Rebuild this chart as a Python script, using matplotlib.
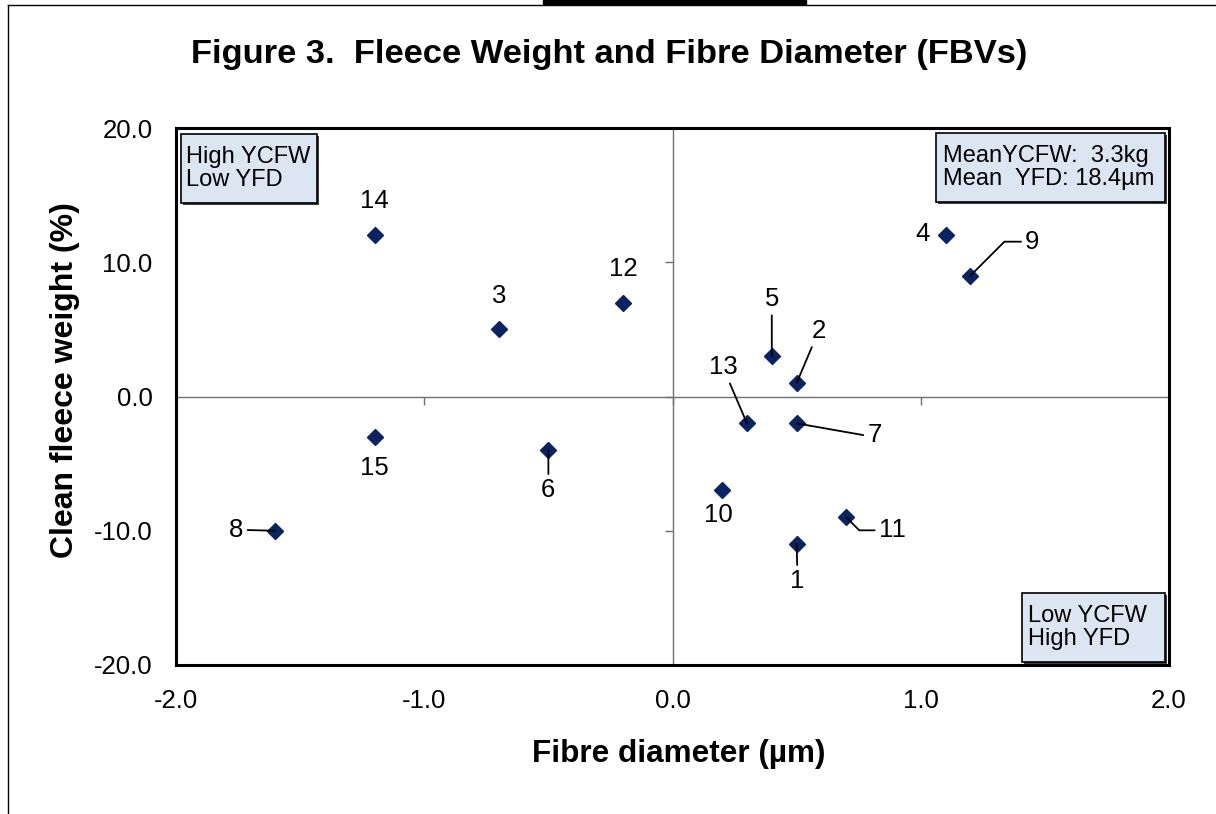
import matplotlib.pyplot as plt
from matplotlib.patches import Rectangle
from matplotlib.lines import Line2D

# ram FBVs: fibre diameter (um) vs clean fleece weight (%)
sire_ids = ['1', '2', '3', '4', '5', '6', '7', '8', '9', '10', '11', '12', '13', '14', '15']
fibre_diam = [0.5, 0.5, -0.7, 1.1, 0.4, -0.5, 0.5, -1.6, 1.2, 0.2, 0.7, -0.2, 0.3, -1.2, -1.2]
fleece_wt = [-11, 1, 5, 12, 3, -4, -2, -10, 9, -7, -9, 7, -2, 12, -3]

x_ticks = [-2.0, -1.0, 0.0, 1.0, 2.0]
y_ticks = [-20.0, -10.0, 0.0, 10.0, 20.0]

# label offsets in pixels and leader style (None = no leader)
label_offsets = [(1, -37), (22, 52), (0, 33), (-23, 1), (0, 57), (0, -40), (78, -12),
                 (-39, 1), (62, 34), (-4, -25), (46, -13), (0, 34), (-24, 56), (0, 34), (0, -31)]
leaders = ['arc3', 'arc3', None, None, 'arc3', 'arc3', 'angle,angleA=0,angleB=-10,rad=0',
           'arc3', 'angle,angleA=0,angleB=45,rad=0', None, 'angle,angleA=0,angleB=-45,rad=0',
           None, 'arc3', None, None]

FONT = 'Liberation Sans'
W, H = 1216, 814

fig = plt.figure(figsize=(W / 100, H / 100), dpi=100)
ax = fig.add_axes([176 / W, 1 - 665 / H, 993 / W, 537 / H])

# page bits around the chart
fig.add_artist(Line2D([8 / W, 8 / W], [0, 1 - 5 / H], color='black', lw=1))
fig.add_artist(Line2D([8 / W, 1], [1 - 5 / H, 1 - 5 / H], color='black', lw=1))
fig.add_artist(Rectangle((543 / W, 1 - 4 / H), 263 / W, 4 / H, color='black', transform=fig.transFigure))

ax.set_xlim(-2, 2)
ax.set_ylim(-20, 20)
ax.set_xticks(x_ticks)
ax.set_yticks(y_ticks)
ax.set_xticklabels(['%.1f' % v for v in x_ticks], family=FONT, fontsize=18.5)
ax.set_yticklabels(['%.1f' % v for v in y_ticks], family=FONT, fontsize=18.5)
ax.tick_params(axis='x', length=0, pad=17)
ax.tick_params(axis='y', length=0, pad=17)
for s in ax.spines.values():
    s.set_linewidth(2.2)

# crossing axes at zero with their own tick marks
ax.axhline(0, color='#707070', lw=1, zorder=1)
ax.axvline(0, color='#707070', lw=1, zorder=1)
ax.plot(x_ticks, [0] * len(x_ticks), ls='none', marker=3, ms=6, mew=1, color='#707070', zorder=1)
ax.plot([0] * len(y_ticks), y_ticks, ls='none', marker=0, ms=6, mew=1, color='#707070', zorder=1)

ax.plot(fibre_diam, fleece_wt, ls='none', marker='D', ms=8.5, color='#0B2361', zorder=3)

for i, lab in enumerate(sire_ids):
    dx, dy = label_offsets[i]
    props = None
    if leaders[i]:
        props = dict(arrowstyle='-', color='black', lw=1.3, shrinkA=1, shrinkB=0,
                     connectionstyle=leaders[i])
    ax.annotate(lab, (fibre_diam[i], fleece_wt[i]), xytext=(dx, dy), textcoords='offset pixels',
                ha='center', va='center', family=FONT, fontsize=18.5, arrowprops=props, zorder=4)

# quadrant notes
boxes = [((0.005, 0.860), 0.137, 0.129, 0.0101, 'High YCFW\nLow YFD'),
         ((0.765, 0.862), 0.231, 0.129, 0.772, 'MeanYCFW:  3.3kg\nMean  YFD: 18.4\u00b5m'),
         ((0.852, 0.006), 0.144, 0.128, 0.858, 'Low YCFW\nHigh YFD')]
for (x0, y0), bw, bh, tx, txt in boxes:
    ax.add_patch(Rectangle((x0 + 0.002, y0 - 0.004), bw, bh, transform=ax.transAxes,
                           facecolor='#404040', edgecolor='none', zorder=5))
    ax.add_patch(Rectangle((x0, y0), bw, bh, transform=ax.transAxes,
                           facecolor='#DCE6F2', edgecolor='black', lw=1.2, zorder=6))
    ax.text(tx, y0 + bh / 2, txt, transform=ax.transAxes, ha='left', va='center',
            family=FONT, fontsize=17, linespacing=1.05, zorder=7)

fig.text(609 / W, 1 - 63 / H, 'Figure 3.  Fleece Weight and Fibre Diameter (FBVs)',
         ha='center', va='baseline', family=FONT, fontsize=24.8, fontweight='bold')
fig.text(679 / W, 1 - 762 / H, 'Fibre diameter (\u00b5m)', ha='center', va='baseline',
         family=FONT, fontsize=22.7, fontweight='bold')
fig.text(65 / W, 1 - 380 / H, 'Clean fleece weight (%)', ha='center', va='center', rotation=90,
         family=FONT, fontsize=23, fontweight='bold')

fig.savefig('out.png', dpi=100)
